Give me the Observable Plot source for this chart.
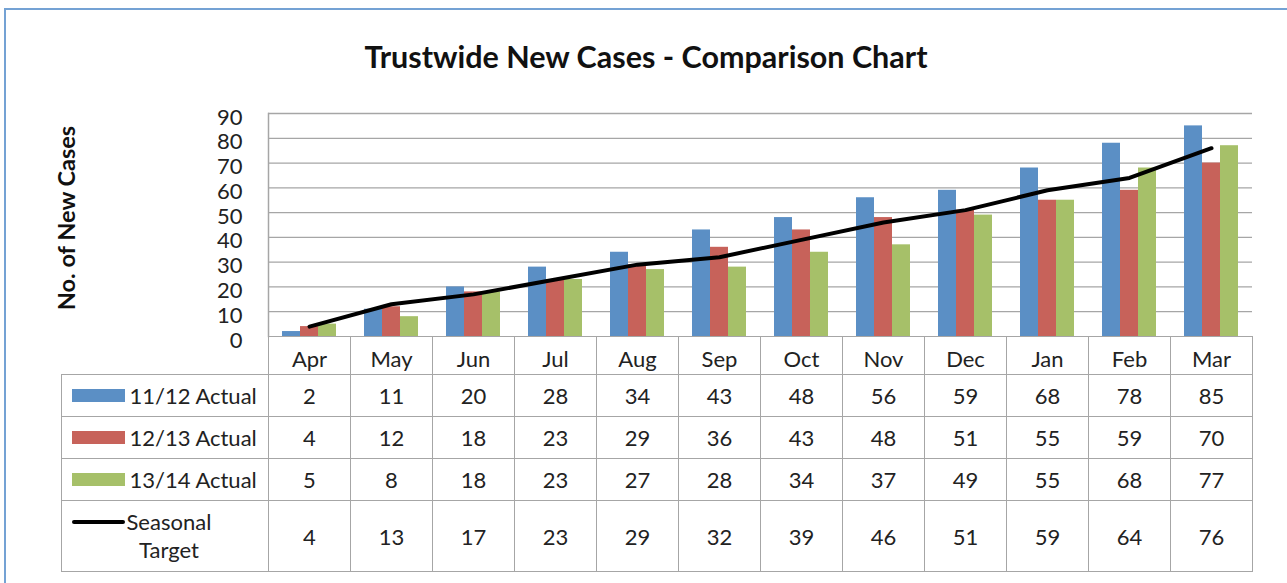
<!DOCTYPE html>
<html><head><meta charset="utf-8">
<script src="https://cdn.jsdelivr.net/npm/d3@7"></script>
<script src="https://cdn.jsdelivr.net/npm/@observablehq/plot@0.6"></script>
<style>
html,body{margin:0;padding:0;background:#fff;}
#wrap{position:relative;width:1287px;height:583px;overflow:hidden;background:#fff;font-family:Lato,"Open Sans",sans-serif;}
#frame{position:absolute;left:4px;top:8px;width:1400px;height:700px;border:2px solid #74a2d4;box-sizing:border-box;}
#title{position:absolute;left:0;top:38px;width:1292px;text-align:center;font-weight:bold;font-size:30.5px;color:#111;white-space:nowrap;}
.layer{position:absolute;left:0;top:0;}
g[aria-label="y-axis label"] text{font-weight:700;font-size:23.5px;fill:#111;translate:0 -7px;}
#tbl{position:absolute;border-collapse:collapse;table-layout:fixed;font-size:22px;color:#222;}
#tbl td{border:1.5px solid #a6a6a6;text-align:center;padding:0;vertical-align:middle;}
#tbl td.blank{border-top:none;border-left:none;}
#tbl td.lab{text-align:left;padding-left:10px;}
.key{display:flex;align-items:center;}
.sw{width:53px;height:13px;margin-right:5px;flex:none;}
.ln{width:53px;height:4px;background:#000;border-radius:2px;margin-right:2px;flex:none;margin-top:12px;}
.two{display:flex;align-items:flex-start;}
.two .t{text-align:center;line-height:28px;}
</style></head>
<body>
<div id="wrap">
  <div id="frame"></div>
  <div id="title">Trustwide New Cases - Comparison Chart</div>
</div>
<script>
const months = ["Apr","May","Jun","Jul","Aug","Sep","Oct","Nov","Dec","Jan","Feb","Mar"];
const series = ["11/12 Actual","12/13 Actual","13/14 Actual"];
const actual1112 = [2,11,20,28,34,43,48,56,59,68,78,85];
const actual1213 = [4,12,18,23,29,36,43,48,51,55,59,70];
const actual1314 = [5,8,18,23,27,28,34,37,49,55,68,77];
const targetName = "Seasonal Target";
const seasonalTarget = [4,13,17,23,29,32,39,46,51,59,64,76];
const yTicks = [0,10,20,30,40,50,60,70,80,90];
const colors = ["#5B8FC5","#C7625A","#A6C069"];
const yLabel = "No. of New Cases";

const W = 1287, H = 583, mL = 268, mR = 35, mT = 113, mB = 247;
const seriesValues = [actual1112, actual1213, actual1314];
const bars = months.flatMap((m, i) => seriesValues.map((arr, k) => ({month: m, series: series[k], value: arr[i]})));
const target = months.map((m, i) => ({month: m, value: seasonalTarget[i]}));

const common = {
  width: W, height: H, marginLeft: mL, marginRight: mR, marginTop: mT, marginBottom: mB,
  style: {background: "transparent", fontFamily: "Lato, 'Open Sans', sans-serif", fontSize: "22px", color: "#222", overflow: "visible"},
  y: {domain: [0, 90], axis: null}
};

const plotA = Plot.plot({
  ...common,
  facet: {data: bars, x: "month"},
  fx: {type: "band", domain: months, padding: 0, axis: null, label: null},
  x: {type: "band", domain: series, paddingInner: 0, paddingOuter: 0.69, axis: null},
  color: {domain: series, range: colors},
  marks: [
    Plot.ruleY(yTicks.slice(1), {stroke: "#a6a6a6", strokeWidth: 1.3}),
    Plot.barY(bars, {x: "series", y: "value", fill: "series"})
  ]
});

const plotB = Plot.plot({
  ...common,
  x: {type: "band", domain: months, padding: 0, axis: null},
  marks: [
    Plot.axisY(yTicks, {tickSize: 0, tickPadding: 26, dy: 4, label: yLabel, labelAnchor: "center", labelOffset: 210, labelArrow: false}),
    Plot.frame({anchor: "left", stroke: "#a6a6a6", strokeWidth: 1.5}),
    Plot.line(target, {x: "month", y: "value", stroke: "#000", strokeWidth: 4, strokeLinecap: "round", strokeLinejoin: "round"})
  ]
});

const wrap = document.getElementById("wrap");
plotA.classList.add("layer"); plotB.classList.add("layer");
plotA.style.position = "absolute"; plotB.style.position = "absolute";
wrap.appendChild(plotA); wrap.appendChild(plotB);

// data table aligned to Plot's x scale
const xs = plotB.scale("x");
const bw = xs.bandwidth;
const x0 = xs.apply(months[0]);
const tblLeft = 60.5;
const tbl = document.createElement("table");
tbl.id = "tbl";
tbl.style.left = tblLeft + "px";
tbl.style.top = (H - mB) + "px";
const cg = document.createElement("colgroup");
const c0 = document.createElement("col"); c0.style.width = (x0 - tblLeft) + "px"; cg.appendChild(c0);
months.forEach(() => { const c = document.createElement("col"); c.style.width = bw + "px"; cg.appendChild(c); });
tbl.appendChild(cg);
tbl.style.width = (x0 - tblLeft + bw * months.length) + "px";

const hdr = document.createElement("tr"); hdr.style.height = "38px";
const blank = document.createElement("td"); blank.className = "blank"; hdr.appendChild(blank);
months.forEach(m => { const td = document.createElement("td"); td.textContent = m; td.style.paddingTop = "5px"; hdr.appendChild(td); });
tbl.appendChild(hdr);

seriesValues.forEach((arr, k) => {
  const tr = document.createElement("tr"); tr.style.height = "42px";
  const lab = document.createElement("td"); lab.className = "lab";
  lab.innerHTML = `<div class="key"><span class="sw" style="background:${colors[k]}"></span><span>${series[k]}</span></div>`;
  tr.appendChild(lab);
  arr.forEach(v => { const td = document.createElement("td"); td.textContent = v; tr.appendChild(td); });
  tbl.appendChild(tr);
});
{
  const tr = document.createElement("tr"); tr.style.height = "71px";
  const lab = document.createElement("td"); lab.className = "lab";
  const parts = targetName.split(" ");
  lab.innerHTML = `<div class="two"><span class="ln"></span><div class="t">${parts[0]}<br>${parts[1]}</div></div>`;
  tr.appendChild(lab);
  seasonalTarget.forEach(v => { const td = document.createElement("td"); td.textContent = v; tr.appendChild(td); });
  tbl.appendChild(tr);
}
wrap.appendChild(tbl);
</script>
</body></html>
